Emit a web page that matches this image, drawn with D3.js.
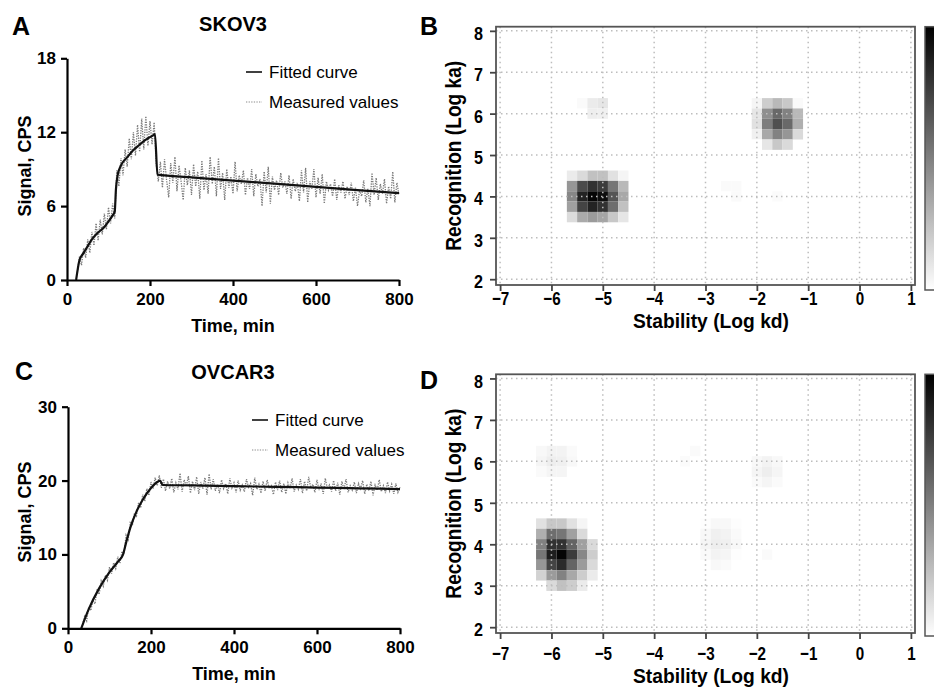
<!DOCTYPE html>
<html>
  <head>
    <meta charset="utf-8">
    <title>Binding kinetics and interaction maps</title>
    <style>
      body { margin: 0; background: #fff; }
      svg { display: block; }
    </style>
  </head>
  <body>
    <div id="chart"></div>
    <script src="https://cdn.jsdelivr.net/npm/d3@7/dist/d3.min.js"></script>
    <script>
      (function(d3) {
        'use strict';

        // ---- data ----
        var timeTicks = [0, 200, 400, 600, 800];
        var skovTicks = [0, 6, 12, 18];
        var ovcarTicks = [0, 10, 20, 30];

        // fitted curves (time in min, signal in CPS)
        var skovFitTime = [22, 30, 40, 50, 60, 70, 80, 90, 100, 110, 115, 118, 122, 130, 146, 160, 174, 190, 200, 210, 212, 218, 300, 400, 500, 600, 700, 800];
        var skovFitSignal = [0, 1.6, 2.2, 2.75, 3.3, 3.7, 4.0, 4.3, 4.75, 5.25, 5.55, 7.4, 8.5, 9.3, 10.0, 10.55, 10.96, 11.4, 11.6, 11.8, 11.85, 8.55, 8.33, 8.07, 7.82, 7.56, 7.3, 7.05];
        var ovcarFitTime = [32, 50, 75, 100, 120, 132, 140, 150, 165, 180, 200, 215, 222, 228, 300, 400, 500, 600, 700, 800];
        var ovcarFitSignal = [0, 2.6, 5.4, 7.6, 9.0, 9.9, 11.6, 13.6, 15.8, 17.4, 19.0, 19.8, 20.0, 19.4, 19.35, 19.25, 19.15, 19.05, 18.95, 18.85];

        // measured values, sampled every 5 min
        var skovMeasStart = 25, ovcarMeasStart = 35, measStep = 5;
        var skovMeasured = [
          0.6, 1.9, 1.2, 2.6, 1.8, 3.3, 2.2, 3.9, 2.8, 4.6, 3.2, 4.9, 3.7, 5.4, 4.1, 5.9, 4.6, 6.2, 5.0, 8.9,
          7.6, 9.9, 8.5, 10.6, 9.2, 11.5, 9.8, 12.0, 10.1, 12.6, 10.4, 13.1, 10.6, 13.3, 10.9, 12.9, 11.0, 12.8, 9.4, 8.0,
          9.6, 7.5, 9.8, 8.1, 6.7, 9.5, 7.9, 10.0, 7.2, 9.3, 8.0, 6.5, 9.1, 7.7, 8.9, 6.9, 9.4, 7.6, 8.8, 6.6,
          9.7, 7.3, 8.6, 7.0, 10.0, 7.8, 9.2, 6.8, 9.9, 7.4, 8.7, 6.5, 9.0, 7.5, 8.4, 7.0, 9.6, 7.2, 8.5, 7.8,
          8.9, 6.9, 8.3, 7.4, 9.0, 6.8, 8.6, 7.6, 8.2, 6.0, 8.8, 7.1, 9.2, 6.2, 8.4, 7.3, 8.1, 6.9, 8.7, 7.5,
          8.0, 7.0, 8.5, 6.6, 8.2, 7.2, 7.9, 6.4, 8.9, 7.1, 9.1, 6.3, 8.0, 7.4, 9.0, 6.7, 8.3, 7.0, 8.6, 6.2,
          8.0, 7.3, 7.8, 6.8, 8.2, 6.5, 7.7, 7.1, 8.0, 6.6, 7.6, 6.9, 7.9, 6.4, 7.5, 6.0, 7.3, 6.8, 8.1, 6.3,
          7.4, 6.0, 8.7, 6.9, 8.3, 6.5, 7.8, 7.0, 8.2, 6.2, 7.6, 6.6, 8.8, 6.3, 7.9, 6.9
        ];
        var ovcarMeasured = [
          0.5, 1.6, 1.0, 2.9, 2.4, 3.8, 3.3, 5.3, 4.6, 6.4, 5.7, 7.2, 6.5, 8.3, 7.4, 8.9, 8.1, 9.7, 8.8, 10.4,
          10.1, 12.6, 12.0, 14.3, 13.9, 15.6, 15.2, 17.0, 16.3, 18.1, 17.2, 18.9, 18.0, 19.8, 18.9, 20.4, 19.3, 20.7, 19.0, 20.2,
          18.6, 19.9, 18.9, 20.3, 18.4, 19.7, 18.8, 21.0, 18.5, 20.1, 19.2, 20.6, 18.3, 19.9, 18.7, 20.5, 18.2, 19.8, 18.9, 20.4,
          18.1, 20.9, 18.8, 20.2, 18.6, 19.5, 18.3, 20.1, 18.9, 19.6, 18.2, 20.3, 19.0, 19.7, 18.4, 20.0, 18.7, 19.4, 18.5, 20.2,
          19.1, 19.6, 18.0, 20.4, 18.8, 19.5, 18.3, 19.9, 18.6, 20.1, 18.9, 19.3, 18.1, 19.8, 18.7, 20.0, 18.4, 19.6, 18.2, 19.7,
          18.9, 20.3, 18.5, 19.4, 18.8, 20.2, 18.3, 19.9, 18.6, 20.5, 19.0, 19.5, 18.4, 20.1, 18.7, 19.6, 18.2, 20.3, 18.9, 19.4,
          18.5, 20.0, 18.6, 19.7, 18.1, 19.9, 18.8, 20.2, 18.4, 19.3, 18.7, 19.8, 18.3, 19.6, 18.9, 20.0, 18.2, 19.5, 18.6, 19.9,
          18.0, 19.4, 18.7, 20.1, 18.5, 19.3, 18.3, 19.8, 18.6, 19.5, 18.2, 19.6, 18.4, 19.1
        ];

        // interaction maps: Log kd ticks, Log ka ticks
        var kdTicks = [-7, -6, -5, -4, -3, -2, -1, 0, 1];
        var kaTicks = [2, 3, 4, 5, 6, 7, 8];
        var kdStep = 0.2, kaStep = 0.25;
        // each row: [log ka, first log kd, weights along log kd]
        var heatSkov = [
          [4.5, -5.6, [0.08, 0.15, 0.25, 0.25, 0.12, 0.04]],
          [4.25, -5.6, [0.42, 0.72, 0.82, 0.78, 0.55, 0.28]],
          [4.0, -5.6, [0.48, 0.88, 1.0, 0.97, 0.68, 0.35]],
          [3.75, -5.6, [0.38, 0.75, 0.88, 0.82, 0.58, 0.25]],
          [3.5, -5.6, [0.14, 0.34, 0.4, 0.36, 0.22, 0.1]],
          [6.25, -5.4, [0.02, 0.08, 0.1]],
          [6.0, -5.2, [0.07, 0.06]],
          [6.25, -2.0, [0.04, 0.2, 0.28, 0.22, 0.02]],
          [6.0, -2.0, [0.1, 0.45, 0.6, 0.5, 0.28]],
          [5.75, -2.0, [0.12, 0.52, 0.7, 0.6, 0.32]],
          [5.5, -2.0, [0.06, 0.35, 0.5, 0.42, 0.15]],
          [5.25, -2.0, [0, 0.1, 0.22, 0.15]],
          [4.25, -2.6, [0.02, 0.02]],
          [4.0, -2.4, [0.02]],
          [4.0, -1.6, [0.015]]
        ];
        var heatOvcar = [
          [4.5, -6.2, [0.12, 0.22, 0.22, 0.12, 0.04]],
          [4.25, -6.2, [0.32, 0.58, 0.55, 0.38, 0.15]],
          [4.0, -6.2, [0.5, 0.82, 0.82, 0.62, 0.38, 0.15]],
          [3.75, -6.2, [0.55, 0.9, 1.0, 0.78, 0.48, 0.2]],
          [3.5, -6.2, [0.42, 0.75, 0.85, 0.62, 0.4, 0.15]],
          [3.25, -6.2, [0.18, 0.4, 0.5, 0.35, 0.2, 0.08]],
          [3.0, -6.0, [0.15, 0.25, 0.2, 0.08]],
          [6.25, -6.2, [0.03, 0.05, 0.05, 0.02]],
          [6.0, -6.2, [0.04, 0.07, 0.06, 0.03]],
          [5.75, -6.2, [0.02, 0.04, 0.04]],
          [6.25, -3.2, [0.02]],
          [6.0, -3.4, [0.015]],
          [6.0, -2.0, [0.03, 0.05, 0.03]],
          [5.75, -2.0, [0.04, 0.07, 0.04]],
          [5.5, -2.0, [0.02, 0.04, 0.02]],
          [4.5, -3.0, [0.01, 0.03, 0.03, 0.01]],
          [4.25, -3.0, [0.03, 0.06, 0.05, 0.02]],
          [4.0, -3.0, [0.04, 0.07, 0.06, 0.03]],
          [3.75, -3.0, [0.02, 0.05, 0.04, 0.01]],
          [3.5, -2.8, [0.03, 0.02]],
          [3.75, -1.8, [0.02]]
        ];

        // ---- drawing ----
        var sans = '"Liberation Sans", Arial, Helvetica, sans-serif';

        var svg = d3.select('#chart')
          .append('svg')
          .attr('width', 934)
          .attr('height', 687);

        var grad = svg.append('defs').append('linearGradient')
          .attr('id', 'cbar')
          .attr('x1', 0).attr('y1', 0).attr('x2', 0).attr('y2', 1);
        grad.append('stop').attr('offset', '0%').attr('stop-color', '#000');
        grad.append('stop').attr('offset', '100%').attr('stop-color', '#fff');

        function label(txt, x, y, size, weight, anchor) {
          return svg.append('text')
            .attr('x', x).attr('y', y)
            .attr('font-family', sans)
            .attr('font-size', size)
            .attr('font-weight', weight)
            .attr('text-anchor', anchor || 'start')
            .attr('fill', '#000')
            .text(txt);
        }

        // squeeze glyphs horizontally, the map labels use a narrow face
        function condense(sel, k) {
          sel.each(function() {
            var len = this.getComputedTextLength();
            d3.select(this)
              .attr('textLength', len * k)
              .attr('lengthAdjust', 'spacingAndGlyphs');
          });
        }

        function kinetics(c) {
          var x = d3.scaleLinear().domain([0, 800]).range([c.left, c.right]);
          var y = d3.scaleLinear().domain([0, c.ymax]).range([c.bottom, c.top]);
          var line = d3.line()
            .x(function(d) { return x(d[0]); })
            .y(function(d) { return y(d[1]); });

          var meas = c.measured.map(function(v, i) { return [c.start + i * measStep, v]; });
          svg.append('path')
            .datum(meas)
            .attr('d', line)
            .attr('fill', 'none')
            .attr('stroke', '#7a7a7a')
            .attr('stroke-width', 1.3)
            .attr('stroke-dasharray', '1.3,1.2');

          var fit = c.fitTime.map(function(t, i) { return [t, c.fitSignal[i]]; });
          svg.append('path')
            .datum(fit)
            .attr('d', line.curve(d3.curveMonotoneX))
            .attr('fill', 'none')
            .attr('stroke', '#111')
            .attr('stroke-width', 2.2);

          var xa = svg.append('g')
            .attr('transform', 'translate(0,' + c.bottom + ')')
            .call(d3.axisBottom(x).tickValues(timeTicks).tickSize(6).tickSizeOuter(0).tickPadding(7));
          var ya = svg.append('g')
            .attr('transform', 'translate(' + c.left + ',0)')
            .call(d3.axisLeft(y).tickValues(c.yticks).tickSize(6).tickSizeOuter(0).tickPadding(5));
          [xa, ya].forEach(function(a) {
            a.select('.domain').attr('stroke', '#000').attr('stroke-width', 2.2);
            a.selectAll('.tick line').attr('stroke', '#000').attr('stroke-width', 2.2);
            a.selectAll('.tick text')
              .attr('font-family', sans)
              .attr('font-size', 17)
              .attr('font-weight', 'bold')
              .attr('fill', '#000');
          });

          label(c.panel, c.panelX, c.panelY, 25, 'bold');
          label(c.title, 233, c.titleY, 20, 'bold', 'middle');
          label('Time, min', (c.left + c.right) / 2, c.xTitleY, 18, 'bold', 'middle');
          label('Signal, CPS', 0, 0, 18, 'bold', 'middle')
            .attr('transform', 'translate(31,' + c.yTitleMid + ') rotate(-90)');

          // legend
          svg.append('line')
            .attr('x1', c.legX).attr('x2', c.legX + 16)
            .attr('y1', c.legY).attr('y2', c.legY)
            .attr('stroke', '#111').attr('stroke-width', 1.6);
          label('Fitted curve', c.legX + 23, c.legY + 6, 17, 'normal');
          svg.append('line')
            .attr('x1', c.legX).attr('x2', c.legX + 16)
            .attr('y1', c.legY + 30).attr('y2', c.legY + 30)
            .attr('stroke', '#8a8a8a').attr('stroke-width', 1.2)
            .attr('stroke-dasharray', '1.3,1.3');
          label('Measured values', c.legX + 23, c.legY + 36, 17, 'normal');
        }

        function heatmap(c) {
          var x = d3.scaleLinear().domain([-7.08, 1.08]).range([496, 915]);
          var y = d3.scaleLinear().domain([1.86, 8.1]).range([c.bottom, c.top]);
          var shade = d3.scaleLinear().domain([0, 1]).range(['#ffffff', '#050505']);

          var cells = [];
          c.heat.forEach(function(r) {
            r[2].forEach(function(v, i) {
              cells.push({ kd: r[1] + i * kdStep, ka: r[0], v: v });
            });
          });

          svg.append('g').selectAll('rect')
            .data(cells)
            .enter()
            .append('rect')
            .attr('x', function(d) { return x(d.kd - kdStep / 2); })
            .attr('y', function(d) { return y(d.ka + kaStep / 2); })
            .attr('width', function(d) { return x(d.kd + kdStep / 2) - x(d.kd - kdStep / 2); })
            .attr('height', function(d) { return y(d.ka - kaStep / 2) - y(d.ka + kaStep / 2); })
            .attr('fill', function(d) { return shade(d.v); });

          var grid = svg.append('g')
            .attr('stroke', '#bdbdbd')
            .attr('stroke-width', 1.5)
            .attr('stroke-dasharray', '1.5,3.5');
          grid.selectAll('.gx').data(kdTicks).enter().append('line')
            .attr('x1', function(d) { return x(d); }).attr('x2', function(d) { return x(d); })
            .attr('y1', c.top).attr('y2', c.bottom);
          grid.selectAll('.gy').data(kaTicks).enter().append('line')
            .attr('y1', function(d) { return y(d); }).attr('y2', function(d) { return y(d); })
            .attr('x1', 496).attr('x2', 915);

          svg.append('rect')
            .attr('x', 496).attr('y', c.top)
            .attr('width', 915 - 496).attr('height', c.bottom - c.top)
            .attr('fill', 'none')
            .attr('stroke', '#555')
            .attr('stroke-width', 1.8);

          var fmt = d3.format('d');
          var xa = svg.append('g')
            .attr('transform', 'translate(0,' + c.bottom + ')')
            .call(d3.axisBottom(x).tickValues(kdTicks).tickFormat(fmt).tickSize(6).tickSizeOuter(0));
          var ya = svg.append('g')
            .attr('transform', 'translate(496,0)')
            .call(d3.axisLeft(y).tickValues(kaTicks).tickFormat(fmt).tickSize(6).tickSizeOuter(0));
          [xa, ya].forEach(function(a) {
            a.select('.domain').remove();
            a.selectAll('.tick line').attr('stroke', '#444').attr('stroke-width', 1.8);
            a.selectAll('.tick text')
              .attr('font-family', sans)
              .attr('font-size', 19)
              .attr('font-weight', 'bold')
              .attr('fill', '#000');
          });
          xa.selectAll('.tick text').attr('dy', null).attr('y', c.xTickY - c.bottom);
          ya.selectAll('.tick text').attr('x', -13).attr('dy', '0.45em');
          condense(xa.selectAll('.tick text'), 0.8);
          condense(ya.selectAll('.tick text'), 0.85);

          // colour bar at the right edge
          svg.append('rect')
            .attr('x', 925).attr('y', c.top)
            .attr('width', 30).attr('height', c.barBottom - c.top)
            .attr('fill', 'url(#cbar)')
            .attr('stroke', '#555')
            .attr('stroke-width', 1.5);

          label(c.panel, 420, c.panelY, 25, 'bold');
          var xt = label('Stability (Log kd)', 711, c.xTitleY, 21, 'bold', 'middle');
          var yt = label('Recognition (Log ka)', 0, 0, 22, 'bold', 'middle')
            .attr('transform', 'translate(461,' + (c.top + c.bottom) / 2 + ') rotate(-90)');
          xt.attr('textLength', 156).attr('lengthAdjust', 'spacingAndGlyphs');
          yt.attr('textLength', 190).attr('lengthAdjust', 'spacingAndGlyphs');
        }

        kinetics({
          panel: 'A', panelX: 12, panelY: 35, title: 'SKOV3', titleY: 31,
          left: 67, right: 399, top: 58.3, bottom: 280, ymax: 18, yticks: skovTicks,
          xTitleY: 332, yTitleMid: 166, legX: 246, legY: 72,
          fitTime: skovFitTime, fitSignal: skovFitSignal,
          measured: skovMeasured, start: skovMeasStart
        });
        kinetics({
          panel: 'C', panelX: 15, panelY: 380, title: 'OVCAR3', titleY: 379,
          left: 68, right: 400, top: 406.7, bottom: 628.3, ymax: 30, yticks: ovcarTicks,
          xTitleY: 680, yTitleMid: 512, legX: 252, legY: 420,
          fitTime: ovcarFitTime, fitSignal: ovcarFitSignal,
          measured: ovcarMeasured, start: ovcarMeasStart
        });
        heatmap({
          panel: 'B', panelY: 35, top: 26.7, bottom: 285, barBottom: 290,
          xTickY: 305, xTitleY: 328, heat: heatSkov
        });
        heatmap({
          panel: 'D', panelY: 389, top: 374.3, bottom: 633, barBottom: 636,
          xTickY: 660, xTitleY: 683, heat: heatOvcar
        });
      })(window.d3);
    </script>
  </body>
</html>
